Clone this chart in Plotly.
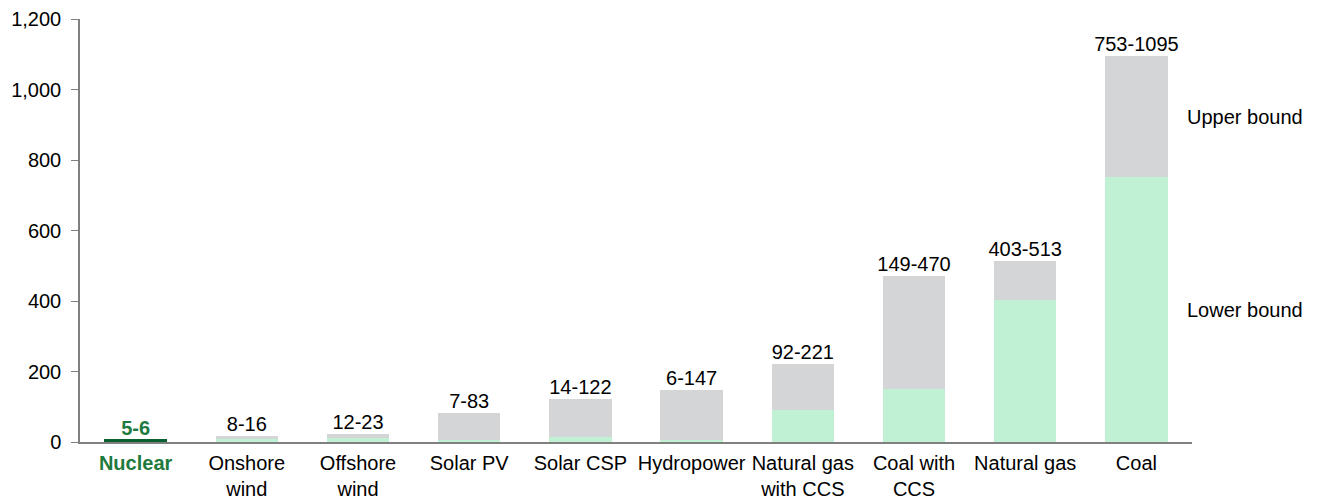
import plotly.graph_objects as go

categories = ["Nuclear", "Onshore wind", "Offshore wind", "Solar PV", "Solar CSP",
              "Hydropower", "Natural gas with CCS", "Coal with CCS", "Natural gas", "Coal"]
tick_labels = ["Nuclear", "Onshore<br>wind", "Offshore<br>wind", "Solar PV", "Solar CSP",
               "Hydropower", "Natural gas<br>with CCS", "Coal with<br>CCS", "Natural gas", "Coal"]
lower = [5, 8, 12, 7, 14, 6, 92, 149, 403, 753]
upper = [6, 16, 23, 83, 122, 147, 221, 470, 513, 1095]

GREEN_TXT = "#1E7A3D"
GREEN_BAR = "#0A6130"
LIGHT = "#C1F1D5"
GRAY = "#D4D5D7"
FONT = "Liberation Sans, Arial"

diff = [u - l for u, l in zip(upper, lower)]
low_colors = [GREEN_BAR if c == "Nuclear" else LIGHT for c in categories]
up_colors = [GREEN_BAR if c == "Nuclear" else GRAY for c in categories]
labels = [f"<b>{l}-{u}</b>" if c == "Nuclear" else f"{l}-{u}"
          for c, l, u in zip(categories, lower, upper)]
label_colors = [GREEN_TXT if c == "Nuclear" else "#000000" for c in categories]
ticktext = [f"<span style='color:{GREEN_TXT}'><b>{t}</b></span>" if c == "Nuclear" else t
            for c, t in zip(categories, tick_labels)]

fig = go.Figure()
fig.add_trace(go.Bar(x=categories, y=lower, marker=dict(color=low_colors, line=dict(width=0)),
                     width=0.56, hoverinfo="skip", showlegend=False))
fig.add_trace(go.Bar(x=categories, y=diff,
                     marker=dict(color=up_colors, line=dict(color=up_colors, width=[1.5] + [0] * 9)),
                     width=0.56, hoverinfo="skip", showlegend=False))
fig.add_trace(go.Scatter(x=categories, y=upper, mode="text", text=labels,
                         textposition="top center",
                         textfont=dict(family=FONT, size=20, color=label_colors),
                         hoverinfo="skip", showlegend=False, cliponaxis=False))

for txt, yv in [("Upper bound", 923), ("Lower bound", 374)]:
    fig.add_annotation(text=txt, xref="paper", yref="y", x=0.994, y=yv,
                       xanchor="left", yanchor="middle", showarrow=False,
                       font=dict(family=FONT, size=20, color="#000000"))

# page body has an 8px default margin; compensate so the plot sits where the reference has it
fig.update_layout(
    barmode="stack",
    width=1309, height=490,
    margin=dict(l=72, r=125, t=11, b=56, autoexpand=False),
    plot_bgcolor="white", paper_bgcolor="white",
    font=dict(family=FONT, size=20, color="#000000"),
    xaxis=dict(tickmode="array", tickvals=categories, ticktext=ticktext,
               showline=True, linecolor="#808080", linewidth=1.5, ticks="",
               showgrid=False, tickfont=dict(size=20), automargin=False,
               ticklabelstandoff=2),
    yaxis=dict(range=[0, 1200], tickvals=[0, 200, 400, 600, 800, 1000, 1200],
               tickformat=",", showline=True, linecolor="#808080", linewidth=1.5,
               ticks="outside", ticklen=7, tickcolor="#808080", showgrid=False,
               zeroline=False, tickfont=dict(size=20), automargin=False,
               ticklabelstandoff=6),
)

fig.write_html("out.html")
